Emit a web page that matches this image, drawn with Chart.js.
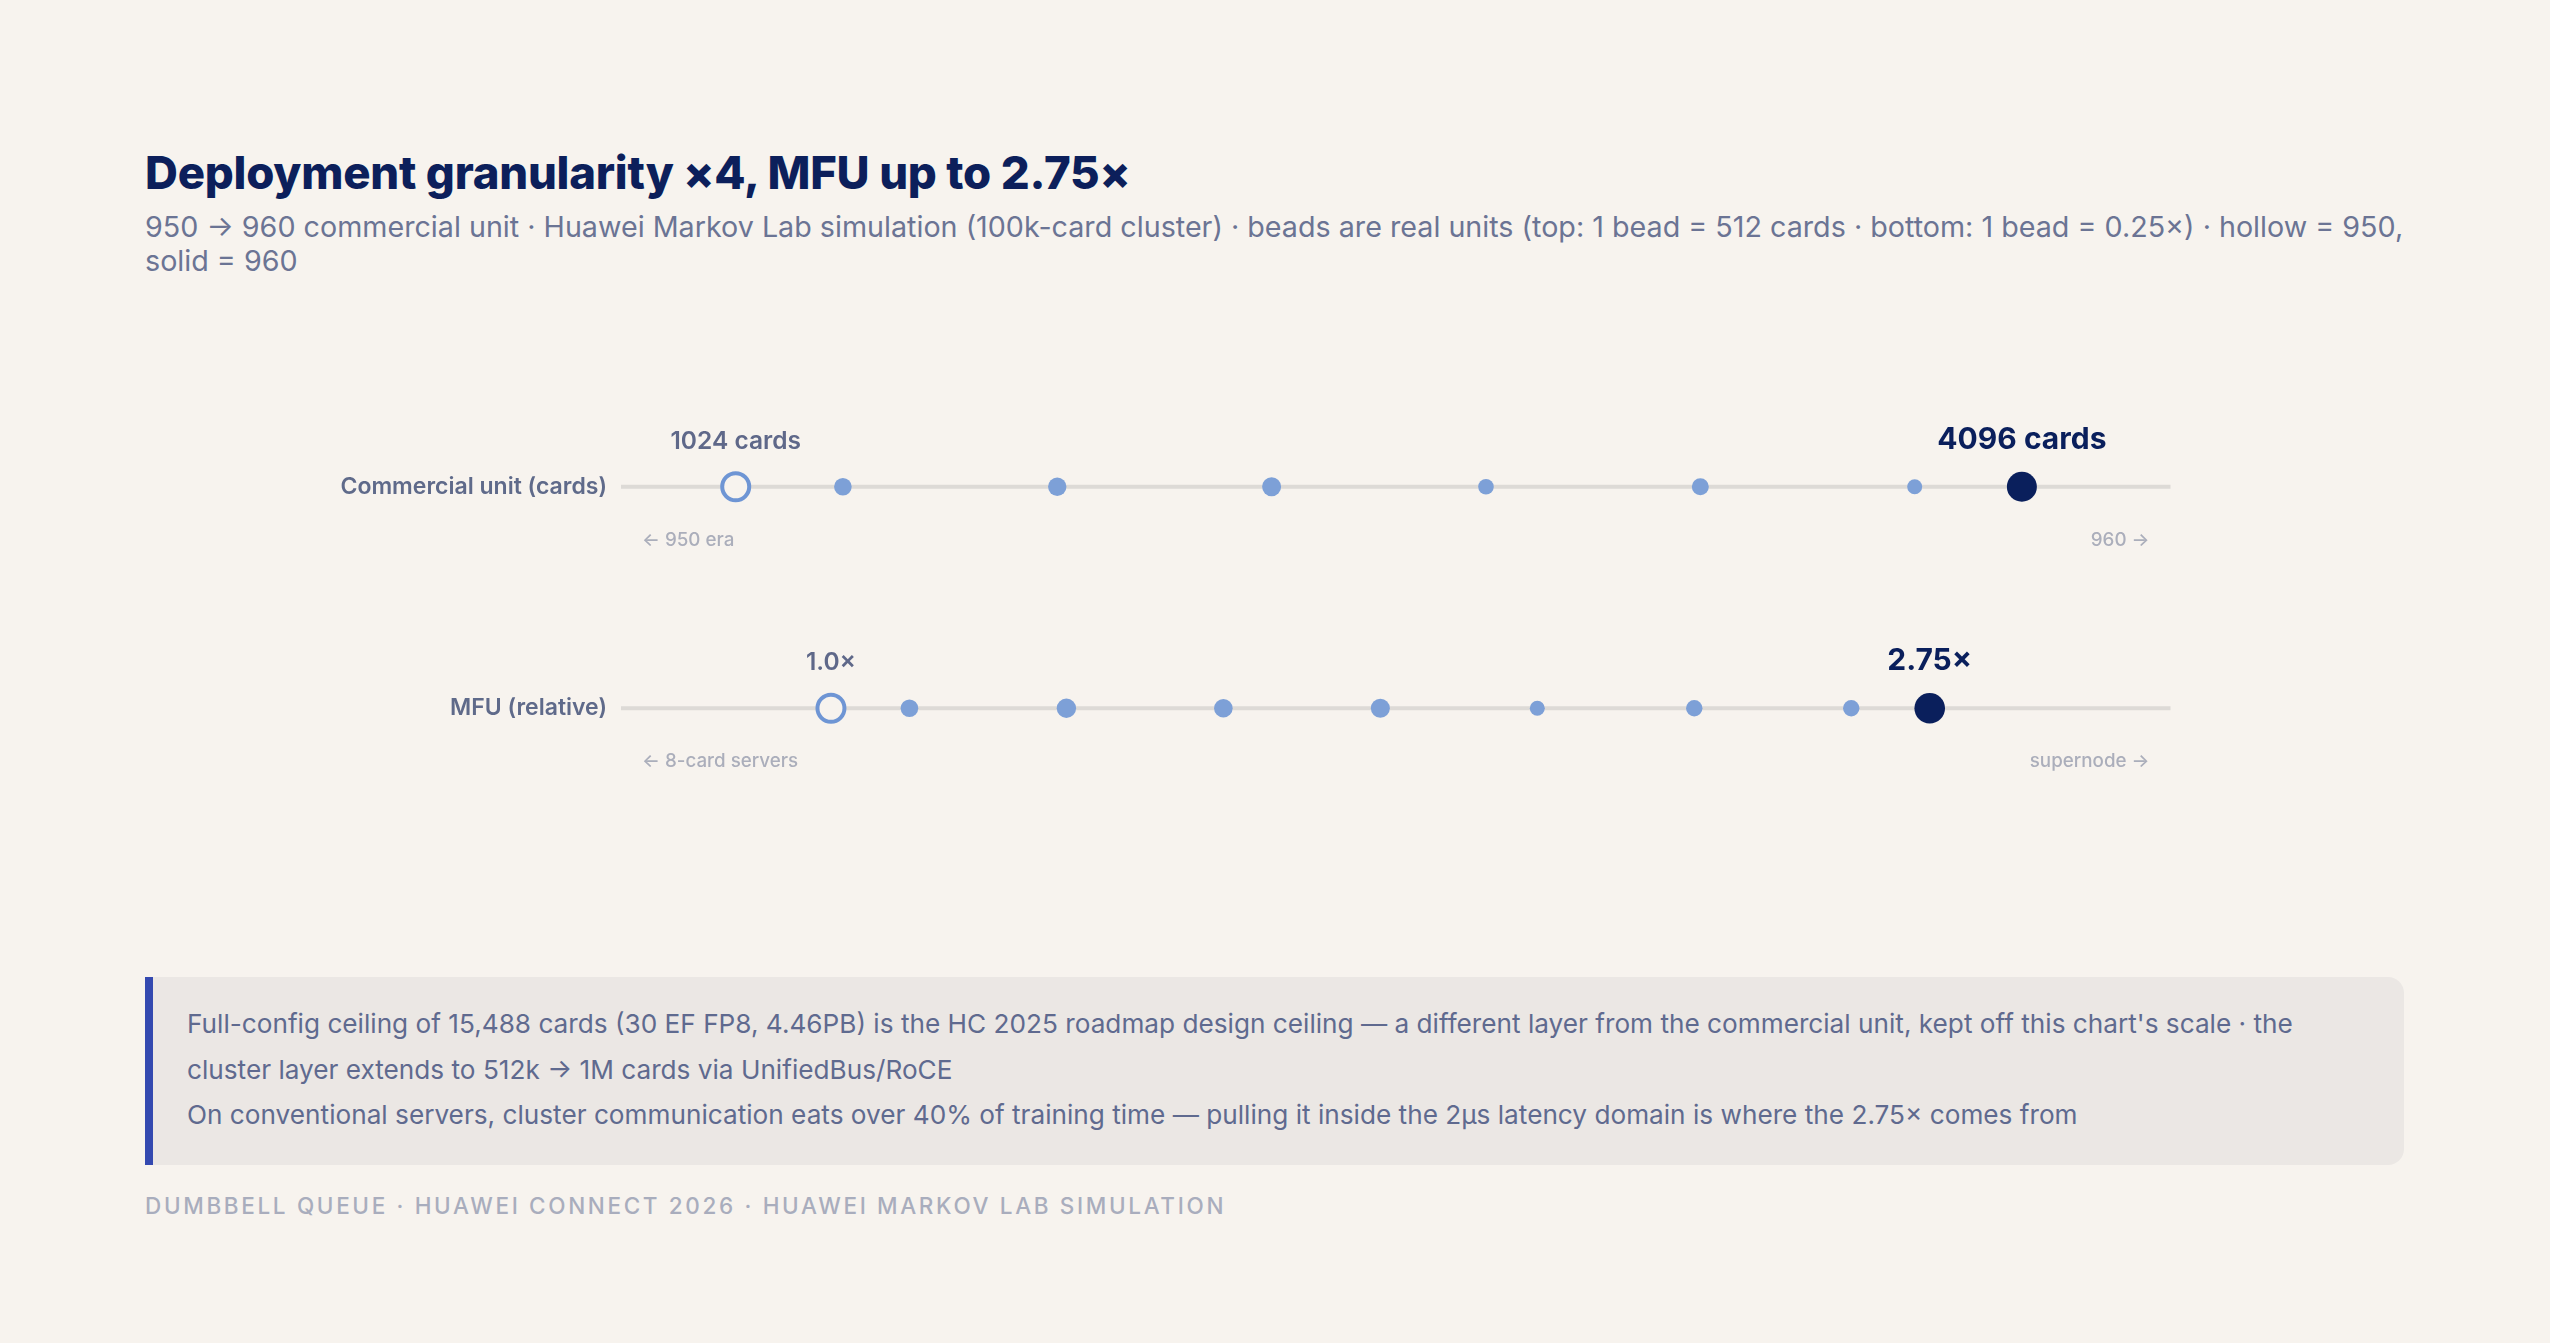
<!DOCTYPE html>
<html>
<head>
<meta charset="utf-8">
<script src="https://cdn.jsdelivr.net/npm/chart.js@4.4.1/dist/chart.umd.min.js"></script>
<style>
  html, body { margin: 0; padding: 0; background: #f7f3ee; }
  body { width: 2550px; height: 1343px; position: relative; overflow: hidden; font-family: Inter, "Noto Sans", sans-serif; }
  #title { position: absolute; left: 145px; top: 145.2px; width: 2300px; margin: 0; font-size: 45.5px; line-height: 55px; font-weight: 800; color: #0c1f5b; letter-spacing: -0.005em; white-space: nowrap; }
  #sub { position: absolute; left: 145px; top: 210.2px; width: 2290px; margin: 0; font-size: 28.7px; line-height: 34px; font-weight: 400; color: #6b7494; }
  #wrap { position: absolute; left: 145px; top: 330px; width: 2259px; height: 560px; }
  #note { position: absolute; left: 145px; top: 977px; width: 2259px; box-sizing: border-box; padding: 24px 44px 27px 34px; background: #ebe7e4; border-left: 8px solid #3449b0; border-radius: 0 16px 16px 0; font-size: 26.2px; line-height: 45.5px; color: #5f6a8f; }
  #note p { margin: 0; }
  #foot { position: absolute; left: 145px; top: 1191.5px; margin: 0; font-size: 22.5px; line-height: 27px; font-weight: 500; letter-spacing: 0.118em; color: #a9adbd; text-transform: uppercase; white-space: nowrap; }
</style>
</head>
<body>
<h1 id="title">Deployment granularity ×4, MFU up to 2.75×</h1>
<p id="sub">950 → 960 commercial unit · Huawei Markov Lab simulation (100k-card cluster) · beads are real units (top: 1 bead = 512 cards · bottom: 1 bead = 0.25×) · hollow = 950, solid = 960</p>
<div id="wrap"><canvas id="c"></canvas></div>
<div id="note">
  <p>Full-config ceiling of 15,488 cards (30 EF FP8, 4.46PB) is the HC 2025 roadmap design ceiling — a different layer from the commercial unit, kept off this chart's scale · the cluster layer extends to 512k → 1M cards via UnifiedBus/RoCE</p>
  <p>On conventional servers, cluster communication eats over 40% of training time — pulling it inside the 2µs latency domain is where the 2.75× comes from</p>
</div>
<p id="foot">Dumbbell queue · Huawei Connect 2026 · Huawei Markov Lab simulation</p>
<script>
// ---- data ----
const rows = ['Commercial unit (cards)', 'MFU (relative)'];
const unitFrom = 1024;          // 950 commercial unit (cards)
const unitTo = 4096;            // 960 commercial unit (cards)
const unitBeads = [1280, 1792, 2304, 2816, 3328, 3840];   // 1 bead = 512 cards
const mfuFrom = 1.0;            // 950 era MFU (relative)
const mfuTo = 2.75;             // 960 MFU (relative)
const mfuBeads = [1.125, 1.375, 1.625, 1.875, 2.125, 2.375, 2.625]; // 1 bead = 0.25x
const fromLabels = ['1024 cards', '1.0×'];
const toLabels = ['4096 cards', '2.75×'];
const leftNotes = ['← 950 era', '← 8-card servers'];
const rightNotes = ['960 →', 'supernode →'];
const unitRange = [750, 4451];
const mfuRange = [0.6656, 3.1335];

// ---- styles ----
const BG = '#f7f3ee';
const BEAD = '#7da0d7';
const HOLLOW = '#6e95d4';
const SOLID = '#0a1f5c';
const TRACK = '#dddad6';

const datasets = [
  { label: 'unit-from', data: [{x: unitFrom, y: rows[0]}], xAxisID: 'x', order: 1,
    pointRadius: 13.5, pointBorderWidth: 4, pointBackgroundColor: BG, pointBorderColor: HOLLOW },
  { label: 'unit-to', data: [{x: unitTo, y: rows[0]}], xAxisID: 'x', order: 1,
    pointRadius: 15, pointBorderWidth: 0, pointBackgroundColor: SOLID, pointBorderColor: SOLID },
  { label: 'unit-beads', data: unitBeads.map(v => ({x: v, y: rows[0]})), xAxisID: 'x', order: 2,
    pointRadius: [8.8, 9.2, 9.5, 7.8, 8.5, 7.5], pointBorderWidth: 0, pointBackgroundColor: BEAD },
  { label: 'mfu-from', data: [{x: mfuFrom, y: rows[1]}], xAxisID: 'x2', order: 1,
    pointRadius: 13.5, pointBorderWidth: 4, pointBackgroundColor: BG, pointBorderColor: HOLLOW },
  { label: 'mfu-to', data: [{x: mfuTo, y: rows[1]}], xAxisID: 'x2', order: 1,
    pointRadius: 15.3, pointBorderWidth: 0, pointBackgroundColor: SOLID, pointBorderColor: SOLID },
  { label: 'mfu-beads', data: mfuBeads.map(v => ({x: v, y: rows[1]})), xAxisID: 'x2', order: 2,
    pointRadius: [8.8, 9.7, 9.3, 9.5, 7.5, 8.2, 8.2], pointBorderWidth: 0, pointBackgroundColor: BEAD },
  { label: 'unit-track', type: 'line', data: [{x: unitRange[0], y: rows[0]}, {x: unitRange[1], y: rows[0]}],
    xAxisID: 'x', order: 10, borderColor: TRACK, borderWidth: 4, pointRadius: 0, showLine: true },
  { label: 'mfu-track', type: 'line', data: [{x: mfuRange[0], y: rows[1]}, {x: mfuRange[1], y: rows[1]}],
    xAxisID: 'x2', order: 10, borderColor: TRACK, borderWidth: 4, pointRadius: 0, showLine: true }
];

const annot = {
  id: 'annot',
  afterDatasetsDraw(chart) {
    const ctx = chart.ctx, ca = chart.chartArea, ys = chart.scales.y;
    const xs = [chart.scales.x, chart.scales.x2];
    const froms = [unitFrom, mfuFrom], tos = [unitTo, mfuTo];
    ctx.save();
    ctx.textBaseline = 'alphabetic';
    for (let i = 0; i < rows.length; i++) {
      const yy = ys.getPixelForValue(i);
      ctx.textAlign = 'center';
      ctx.font = '600 24.5px Inter';
      ctx.fillStyle = '#5f6889';
      ctx.fillText(fromLabels[i], xs[i].getPixelForValue(froms[i]), yy - 38);
      ctx.font = '700 30px Inter';
      ctx.fillStyle = SOLID;
      ctx.fillText(toLabels[i], xs[i].getPixelForValue(tos[i]), yy - 38);
      ctx.font = '500 18.8px Inter';
      ctx.fillStyle = '#abaebb';
      ctx.textAlign = 'left';
      ctx.fillText(leftNotes[i], ca.left + 21, yy + 59);
      ctx.textAlign = 'right';
      ctx.fillText(rightNotes[i], ca.right - 21, yy + 59);
    }
    ctx.restore();
  }
};

new Chart(document.getElementById('c'), {
  type: 'scatter',
  data: { datasets },
  plugins: [annot],
  options: {
    responsive: true,
    maintainAspectRatio: false,
    animation: false,
    events: [],
    clip: false,
    layout: { padding: { top: 46, bottom: 71, right: 233.5, left: 0 } },
    plugins: { legend: { display: false }, tooltip: { enabled: false } },
    scales: {
      x: { type: 'linear', position: 'bottom', display: false, min: unitRange[0], max: unitRange[1] },
      x2: { type: 'linear', position: 'bottom', axis: 'x', display: false, min: mfuRange[0], max: mfuRange[1] },
      y: {
        type: 'category', labels: rows, offset: true,
        grid: { display: false, drawTicks: false }, border: { display: false },
        ticks: { padding: 14, color: '#5f6a8a', font: { family: 'Inter', size: 23, weight: '600' } },
        afterFit(scale) { scale.width = 476; }
      }
    }
  }
});
</script>
</body>
</html>
